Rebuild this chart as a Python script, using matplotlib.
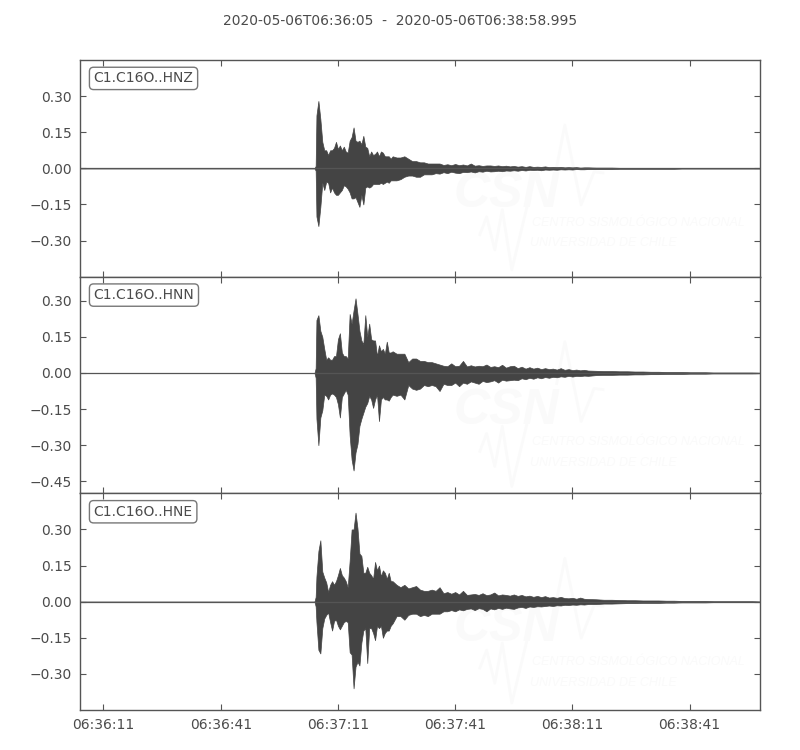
import matplotlib
matplotlib.use("Agg")
import matplotlib.pyplot as plt
import matplotlib.dates as mdates
import pandas as pd

# seconds after trace start
times = [0, 60, 60.3,
         60.5, 61, 61.5, 62, 62.5, 63, 63.5, 64, 64.5, 65,
         65.5, 66, 66.5, 67, 67.5, 68, 68.5, 69, 69.5, 70,
         70.5, 71, 71.5, 72, 72.5, 73, 73.5, 74, 74.5, 75,
         75.5, 76, 76.5, 77, 77.5, 78, 78.5, 79, 79.5, 80,
         81, 82, 83, 84, 85, 86, 87, 88, 89, 90,
         91, 92, 93, 94, 95, 96, 97, 98, 99, 100,
         101, 102, 103, 104, 105, 106, 107, 108, 109, 110,
         111, 112, 113, 114, 115, 116, 117, 118, 119, 120,
         121, 122, 123, 124, 125, 126, 127, 128, 129, 130,
         132, 134, 136, 138, 140, 142, 144, 146, 148, 150,
         152, 154, 156, 158, 160, 162, 164, 166, 168, 170,
         172, 174]

hnz_upper = [0, 0, .01,
             .22, .28, .205, .11, .075, .075, .055, .075, .075, .085,
             .11, .08, .095, .075, .09, .07, .065, .115, .13, .17,
             .115, .11, .115, .10, .135, .09, .085, .05, .07, .055,
             .06, .07, .05, .07, .065, .05, .05, .05, .04, .05,
             .045, .045, .05, .04, .03, .03, .025, .025, .02, .02,
             .02, .02, .014, .017, .013, .018, .013, .016, .012, .02,
             .011, .013, .01, .012, .012, .01, .012, .009, .011, .008,
             .01, .007, .009, .006, .009, .006, .007, .006, .008, .005,
             .006, .005, .006, .004, .005, .004, .005, .003, .004, .004,
             .003, .003, .003, .002, .002, .002, .002, .002, .002, .002,
             .002, .001, .001, .001, .001, .001, .001, .001, .001, .001,
             .001, .001]
hnz_lower = [0, 0, -.01,
             -.2, -.24, -.16, -.06, -.09, -.055, -.06, -.1, -.08, -.1,
             -.11, -.11, -.1, -.09, -.07, -.075, -.085, -.1, -.125, -.125,
             -.12, -.14, -.16, -.11, -.15, -.08, -.075, -.08, -.075, -.065,
             -.065, -.065, -.065, -.06, -.065, -.06, -.055, -.06, -.05, -.05,
             -.05, -.045, -.035, -.03, -.03, -.035, -.035, -.025, -.025, -.025,
             -.02, -.022, -.016, -.02, -.014, -.018, -.02, -.015, -.016, -.013,
             -.017, -.012, -.014, -.01, -.013, -.012, -.01, -.012, -.009, -.01,
             -.008, -.01, -.007, -.009, -.006, -.007, -.006, -.008, -.005, -.006,
             -.005, -.006, -.004, -.005, -.004, -.005, -.003, -.004, -.004, -.003,
             -.003, -.003, -.003, -.002, -.002, -.002, -.002, -.002, -.002, -.002,
             -.002, -.001, -.001, -.001, -.001, -.001, -.001, -.001, -.001, -.001,
             -.001, -.001]

hnn_upper = [0, 0, .02,
             .22, .24, .175, .15, .10, .055, .065, .055, .055, .07,
             .07, .14, .165, .085, .07, .07, .06, .245, .205, .26,
             .31, .245, .175, .135, .12, .24, .15, .205, .14, .135,
             .135, .07, .115, .09, .10, .08, .13, .085, .085, .09,
             .08, .08, .08, .045, .06, .06, .05, .05, .045, .045,
             .04, .035, .03, .028, .04, .028, .03, .05, .027, .032,
             .027, .03, .028, .035, .025, .028, .024, .034, .022, .028,
             .03, .02, .026, .018, .024, .018, .022, .016, .02, .016,
             .018, .014, .02, .013, .016, .012, .014, .011, .013, .01,
             .009, .008, .008, .007, .007, .006, .006, .005, .005, .004,
             .004, .004, .003, .003, .003, .002, .002, .002, .002, .002,
             .002, .001]
hnn_lower = [0, 0, -.02,
             -.19, -.30, -.185, -.155, -.09, -.095, -.11, -.09, -.085, -.09,
             -.10, -.13, -.185, -.1, -.085, -.07, -.09, -.26, -.36, -.405,
             -.33, -.295, -.22, -.19, -.165, -.14, -.125, -.095, -.11, -.145,
             -.11, -.09, -.2, -.11, -.1, -.11, -.11, -.115, -.1, -.09,
             -.095, -.09, -.11, -.05, -.065, -.07, -.065, -.05, -.055, -.05,
             -.055, -.075, -.045, -.05, -.05, -.04, -.055, -.04, -.045, -.035,
             -.04, -.045, -.033, -.038, -.035, -.03, -.04, -.028, -.032, -.03,
             -.028, -.03, -.022, -.026, -.02, -.024, -.018, -.022, -.017, -.02,
             -.016, -.018, -.014, -.016, -.012, -.015, -.012, -.013, -.011, -.012,
             -.009, -.008, -.008, -.007, -.007, -.006, -.006, -.005, -.005, -.004,
             -.004, -.004, -.003, -.003, -.003, -.002, -.002, -.002, -.002, -.002,
             -.002, -.001]

hne_upper = [0, 0, .02,
             .105, .21, .255, .125, .10, .08, .04, .07, .085, .07,
             .085, .11, .14, .11, .10, .085, .06, .17, .30, .30,
             .37, .305, .2, .19, .12, .12, .145, .12, .11, .095,
             .165, .13, .15, .105, .13, .12, .095, .12, .085, .085,
             .07, .06, .07, .055, .06, .065, .05, .045, .045, .05,
             .045, .06, .035, .04, .033, .04, .03, .045, .028, .03,
             .032, .028, .035, .027, .03, .038, .026, .03, .028, .025,
             .03, .024, .028, .022, .025, .02, .024, .019, .023, .017,
             .019, .016, .02, .015, .014, .016, .012, .017, .012, .011,
             .01, .008, .008, .007, .006, .006, .005, .005, .005, .004,
             .004, .003, .003, .003, .003, .002, .002, .002, .002, .002,
             .002, .001]
hne_lower = [0, 0, -.02,
             -.085, -.2, -.215, -.11, -.07, -.055, -.045, -.085, -.12, -.08,
             -.075, -.1, -.115, -.1, -.085, -.08, -.085, -.21, -.22, -.36,
             -.27, -.25, -.265, -.17, -.12, -.11, -.255, -.11, -.11, -.13,
             -.16, -.1, -.11, -.1, -.15, -.13, -.12, -.12, -.1, -.09,
             -.06, -.06, -.075, -.055, -.05, -.05, -.06, -.055, -.06, -.05,
             -.05, -.05, -.04, -.04, -.035, -.04, -.032, -.036, -.03, -.028,
             -.035, -.027, -.03, -.04, -.028, -.032, -.026, -.03, -.025, -.028,
             -.03, -.024, -.022, -.026, -.02, -.022, -.019, -.02, -.018, -.016,
             -.018, -.015, -.016, -.013, -.014, -.012, -.013, -.011, -.012, -.01,
             -.01, -.008, -.008, -.007, -.006, -.006, -.005, -.005, -.005, -.004,
             -.004, -.003, -.003, -.003, -.003, -.002, -.002, -.002, -.002, -.002,
             -.002, -.001]

channels = ["C1.C16O..HNZ", "C1.C16O..HNN", "C1.C16O..HNE"]
uppers = [hnz_upper, hnn_upper, hne_upper]
lowers = [hnz_lower, hnn_lower, hne_lower]
ylims = [(-0.45, 0.45), (-0.5, 0.4), (-0.45, 0.45)]
yticks = [[-0.30, -0.15, 0, 0.15, 0.30],
          [-0.45, -0.30, -0.15, 0, 0.15, 0.30],
          [-0.30, -0.15, 0, 0.15, 0.30]]
xtick_labels = ["06:36:11", "06:36:41", "06:37:11", "06:37:41", "06:38:11", "06:38:41"]

GREY = "#444444"
TEXT = "#4b4b4b"
MARK = "#fafafa"
LOGO_FONT = ["Liberation Sans", "DejaVu Sans"]

start = pd.Timestamp("2020-05-06T06:36:05")
end = pd.Timestamp("2020-05-06T06:38:58.995")
x = (start + pd.to_timedelta(times, unit="s")).to_numpy()
xticks = [pd.Timestamp("2020-05-06T" + t) for t in xtick_labels]

fig, axes = plt.subplots(3, 1, figsize=(8, 7.5), dpi=100, sharex=True)
fig.subplots_adjust(left=0.1, right=0.95, top=0.92, bottom=40 / 750, hspace=0)

logo_dy = [0, -0.015, -0.03]
for ax, name, up, low, ylim, yt, dy in zip(axes, channels, uppers, lowers, ylims, yticks, logo_dy):
    # faint logo behind the trace
    ax.text(0.55, 0.32, "CSN", transform=ax.transAxes, color=MARK, fontsize=36,
            style="italic", weight="bold", family=LOGO_FONT, zorder=0)
    ax.text(0.665, 0.25 + dy, "CENTRO SISMOLÓGICO NACIONAL", transform=ax.transAxes, color=MARK,
            fontsize=9, style="italic", family=LOGO_FONT, ha="left", va="center", zorder=0)
    ax.text(0.662, 0.155 + dy, "UNIVERSIDAD DE CHILE", transform=ax.transAxes, color=MARK,
            fontsize=9, style="italic", family=LOGO_FONT, ha="left", va="center", zorder=0)
    ax.plot([.588, .598, .61, .621, .635, .657], [.194, .276, .124, .309, .032, .318],
            transform=ax.transAxes, color=MARK, lw=2, zorder=0)
    ax.plot([.701, .713, .737, .756, .769], [.507, .70, .332, .484, .479],
            transform=ax.transAxes, color=MARK, lw=2, zorder=0)

    ax.fill_between(x, low, up, color=GREY, lw=0.5, zorder=2)
    ax.plot(x, [0] * len(times), color="#555555", lw=0.9, zorder=2)
    ax.set_xlim(start, end)
    ax.set_ylim(*ylim)
    ax.set_yticks(yt)
    ax.yaxis.set_major_formatter(plt.FuncFormatter(lambda v, p: f"{v:.2f}".replace("-", "\u2212")))
    ax.set_xticks(xticks)
    ax.xaxis.set_major_formatter(mdates.DateFormatter("%H:%M:%S"))
    ax.tick_params(axis="both", direction="in", length=4.5, width=0.8, color="#555555",
                   labelcolor=TEXT, labelsize=10, top=True, right=True, pad=6)
    for s in ax.spines.values():
        s.set_color("#555555")
        s.set_linewidth(1.0)
    ax.text(0.02, 0.915, name, transform=ax.transAxes, color=TEXT, fontsize=10,
            ha="left", va="center", zorder=5,
            bbox=dict(boxstyle="round,pad=0.3", fc="white", ec="#777777", lw=1))

fig.text(0.5, 1 - 21 / 750, "2020-05-06T06:36:05  -  2020-05-06T06:38:58.995",
         ha="center", va="center", fontsize=10, color=TEXT)

fig.savefig("out.png", dpi=100)
